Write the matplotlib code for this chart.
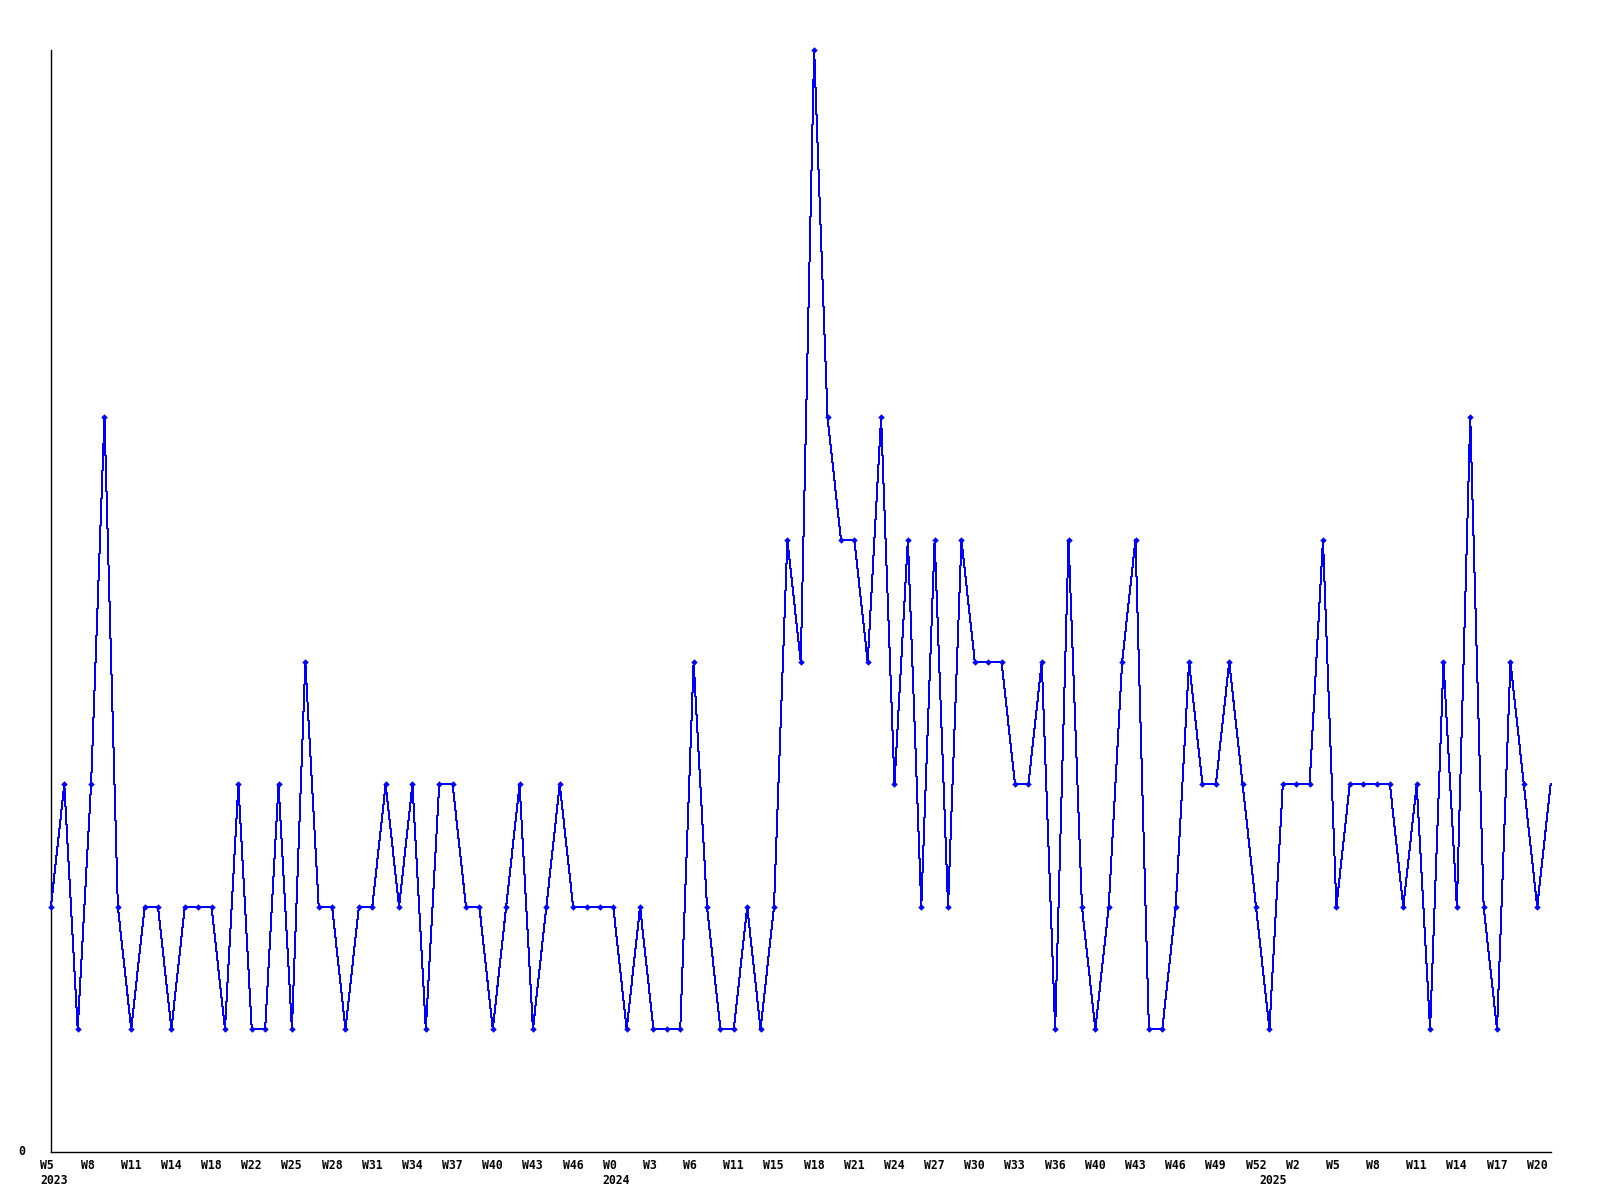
import matplotlib
matplotlib.use("Agg")
import matplotlib.pyplot as plt

# ---- data ----
values = [2, 3, 1, 3, 6, 2, 1, 2, 2, 1, 2, 2, 2, 1, 3, 1, 1, 3, 1, 4,
          2, 2, 1, 2, 2, 3, 2, 3, 1, 3, 3, 2, 2, 1, 2, 3, 1, 2, 3, 2,
          2, 2, 2, 1, 2, 1, 1, 1, 4, 2, 1, 1, 2, 1, 2, 5, 4, 9, 6, 5,
          5, 4, 6, 3, 5, 2, 5, 2, 5, 4, 4, 4, 3, 3, 4, 1, 5, 2, 1, 2,
          4, 5, 1, 1, 2, 4, 3, 3, 4, 3, 2, 1, 3, 3, 3, 5, 2, 3, 3, 3,
          3, 2, 3, 1, 4, 2, 6, 2, 1, 4, 3, 2, 3]
week_labels = ["W5", "W8", "W11", "W14", "W18", "W22", "W25", "W28", "W31",
               "W34", "W37", "W40", "W43", "W46", "W0", "W3", "W6", "W11",
               "W15", "W18", "W21", "W24", "W27", "W30", "W33", "W36", "W40",
               "W43", "W46", "W49", "W52", "W2", "W5", "W8", "W11", "W14",
               "W17", "W20"]
week_label_pos = list(range(0, 112, 3))
year_labels = ["2023", "2024", "2025"]
year_label_pos = [0, 42, 91]
y_tick_labels = ["0"]

x = list(range(len(values)))

fig = plt.figure(figsize=(16, 12), dpi=100)
ax = fig.add_axes([50.9 / 1600, 1 - 1151.6 / 1200,
                   (1550.6 - 50.9) / 1600, (1151.6 - 50) / 1200])

ax.plot(x, values, color="#0000ff", linewidth=0.72, antialiased=False,
        clip_on=False, zorder=3)
ax.plot(x[:-1], values[:-1], linestyle="none", marker="D", markersize=3.3,
        color="#0000ff", markeredgewidth=0, clip_on=False, zorder=4)

ax.set_xlim(0, len(values) - 1)
ax.set_ylim(0, 9)

for s in ["top", "right"]:
    ax.spines[s].set_visible(False)
for s in ["left", "bottom"]:
    ax.spines[s].set_color("black")
    ax.spines[s].set_linewidth(1.0)

ax.set_xticks([])
ax.set_yticks([])

font = dict(family="DejaVu Sans Mono", fontweight="bold", fontsize=8.3,
            color="black")
px = 72.0 / fig.dpi

for pos, lab in zip(week_label_pos, week_labels):
    ax.annotate(lab, xy=(pos, 0), xycoords=("data", "axes fraction"),
                xytext=(-10.5 * px, -7.5 * px), textcoords="offset points",
                ha="left", va="top", annotation_clip=False, **font)
for pos, lab in zip(year_label_pos, year_labels):
    ax.annotate(lab, xy=(pos, 0), xycoords=("data", "axes fraction"),
                xytext=(-10.5 * px, -22.5 * px), textcoords="offset points",
                ha="left", va="top", annotation_clip=False, **font)
ax.annotate(y_tick_labels[0], xy=(0, 0), xycoords="data",
            xytext=(-26 * px, 0), textcoords="offset points",
            ha="right", va="center", annotation_clip=False, **font)

fig.savefig("out.png", dpi=100, facecolor="white")
